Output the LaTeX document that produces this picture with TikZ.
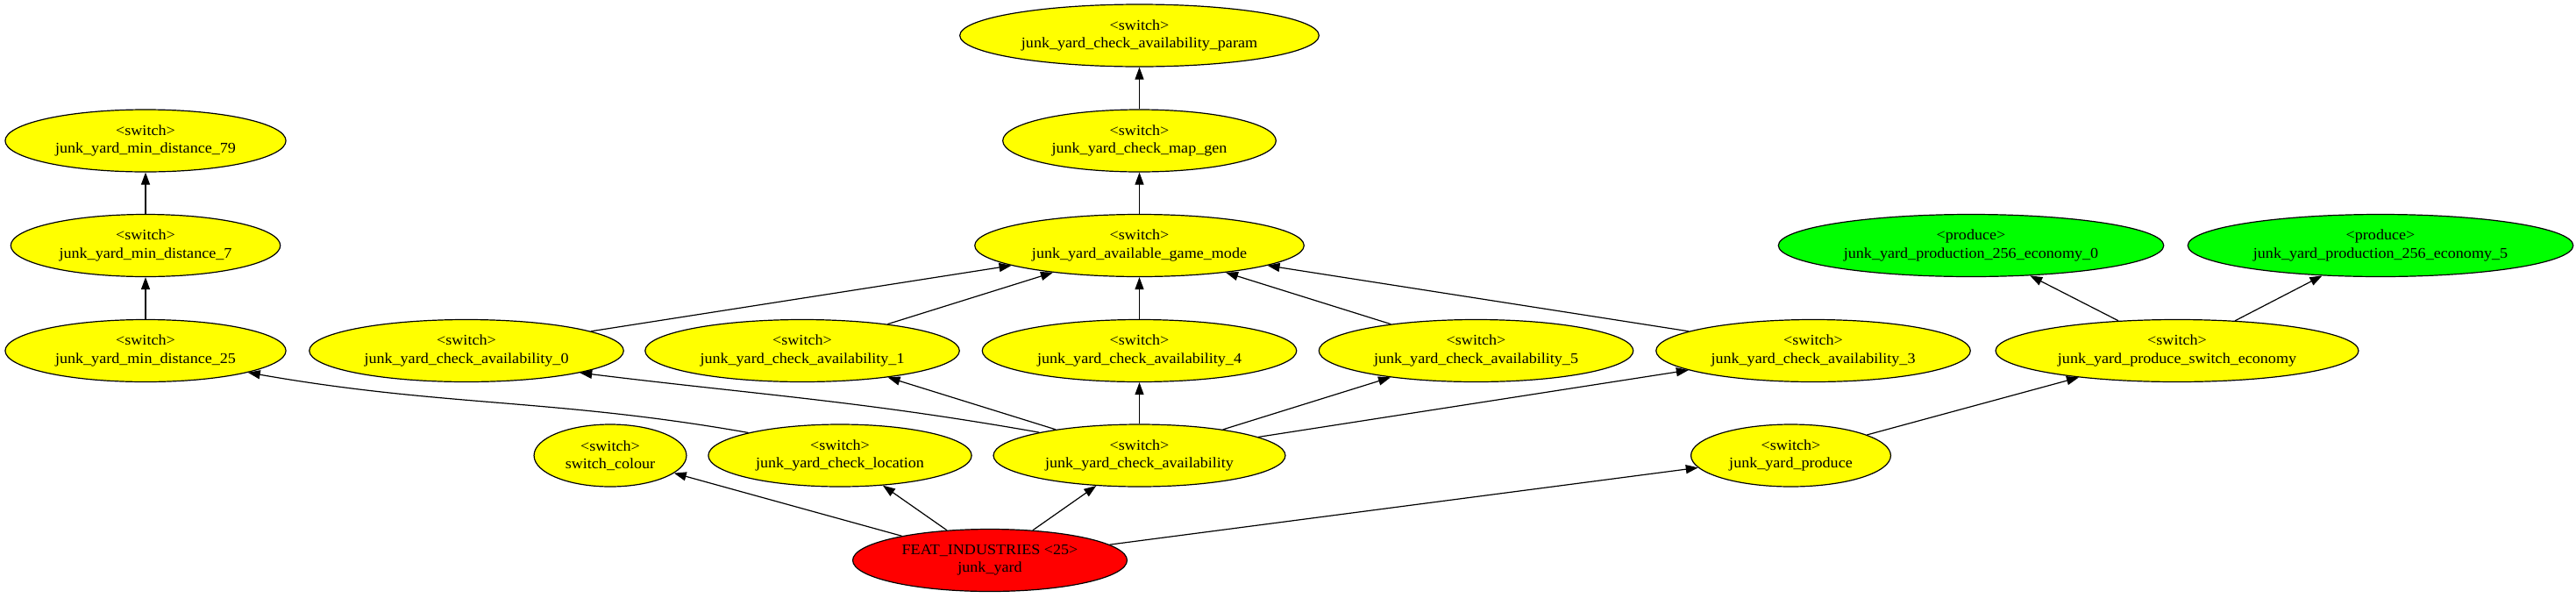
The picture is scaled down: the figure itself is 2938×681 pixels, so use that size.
\documentclass[tikz,border=0pt]{standalone}
\usepackage{fontspec}
\setmainfont{Liberation Serif}[FakeStretch=1.07]
\definecolor{swyellow}{RGB}{255, 255, 0}
\definecolor{prgreen}{RGB}{0, 255, 0}
\definecolor{ftred}{RGB}{255, 0, 0}
\usepackage{tikz}
\usetikzlibrary{shapes.geometric, arrows.meta}

\begin{document}
\begin{tikzpicture}[x=1pt, y=-1pt,
  sw/.style={ellipse, draw=black, line width=1.2pt, fill=swyellow, minimum height=71pt, inner xsep=10.25pt, inner ysep=4.8pt, align=center, font=\fontsize{16.9}{20.3}\selectfont},
  pr/.style={sw, fill=prgreen},
  ft/.style={sw, fill=ftred},
  arr/.style={-{Triangle[length=14pt, width=10pt]}, line width=1.2pt}
]
  \useasboundingbox (0, 0) rectangle (2938, 681);
  \node[sw] (param) at (1299.5, 40.5) {<switch>\\junk\_yard\_check\_availability\_param};
  \node[sw] (mapgen) at (1299.5, 160.5) {<switch>\\junk\_yard\_check\_map\_gen};
  \node[sw] (md79) at (166, 160.5) {<switch>\\junk\_yard\_min\_distance\_79};
  \node[sw] (md7) at (166, 280) {<switch>\\junk\_yard\_min\_distance\_7};
  \node[sw] (mode) at (1299.5, 280) {<switch>\\junk\_yard\_available\_game\_mode};
  \node[pr] (eco0) at (2248, 280) {<produce>\\junk\_yard\_production\_256\_economy\_0};
  \node[pr] (eco5) at (2715, 280) {<produce>\\junk\_yard\_production\_256\_economy\_5};
  \node[sw] (md25) at (166, 400) {<switch>\\junk\_yard\_min\_distance\_25};
  \node[sw] (av0) at (532, 400) {<switch>\\junk\_yard\_check\_availability\_0};
  \node[sw] (av1) at (915, 400) {<switch>\\junk\_yard\_check\_availability\_1};
  \node[sw] (av4) at (1299.5, 400) {<switch>\\junk\_yard\_check\_availability\_4};
  \node[sw] (av5) at (1683.5, 400) {<switch>\\junk\_yard\_check\_availability\_5};
  \node[sw] (av3) at (2068, 400) {<switch>\\junk\_yard\_check\_availability\_3};
  \node[sw] (econ) at (2483, 400) {<switch>\\junk\_yard\_produce\_switch\_economy};
  \node[sw] (colour) at (696, 519.5) {<switch>\\switch\_colour};
  \node[sw] (loc) at (958, 519.5) {<switch>\\junk\_yard\_check\_location};
  \node[sw] (avail) at (1299.5, 519.5) {<switch>\\junk\_yard\_check\_availability};
  \node[sw] (prod) at (2042.5, 519.5) {<switch>\\junk\_yard\_produce};
  \node[ft] (root) at (1129, 639) {FEAT\_INDUSTRIES <25>\\junk\_yard};
  % from the feature
  \draw[arr] (root) -- (colour);
  \draw[arr] (root) -- (loc);
  \draw[arr] (root) -- (avail);
  \draw[arr] (root) -- (prod);
  % location chain
  \draw[arr] (loc.166) to[out=170, in=-10] (md25.-12);
  \draw[arr] (md25) -- (md7);
  \draw[arr] (md7) -- (md79);
  % availability checks
  \draw[arr] (avail.167) to[out=170, in=-7] (av0.-11);
  \draw[arr] (avail) -- (av1);
  \draw[arr] (avail) -- (av4);
  \draw[arr] (avail) -- (av5);
  \draw[arr] (avail) -- (av3);
  \draw[arr] (av0) -- (mode);
  \draw[arr] (av1) -- (mode);
  \draw[arr] (av4) -- (mode);
  \draw[arr] (av5) -- (mode);
  \draw[arr] (av3) -- (mode);
  \draw[arr] (mode) -- (mapgen);
  \draw[arr] (mapgen) -- (param);
  % production
  \draw[arr] (prod) -- (econ);
  \draw[arr] (econ) -- (eco0);
  \draw[arr] (econ) -- (eco5);
\end{tikzpicture}
\end{document}
